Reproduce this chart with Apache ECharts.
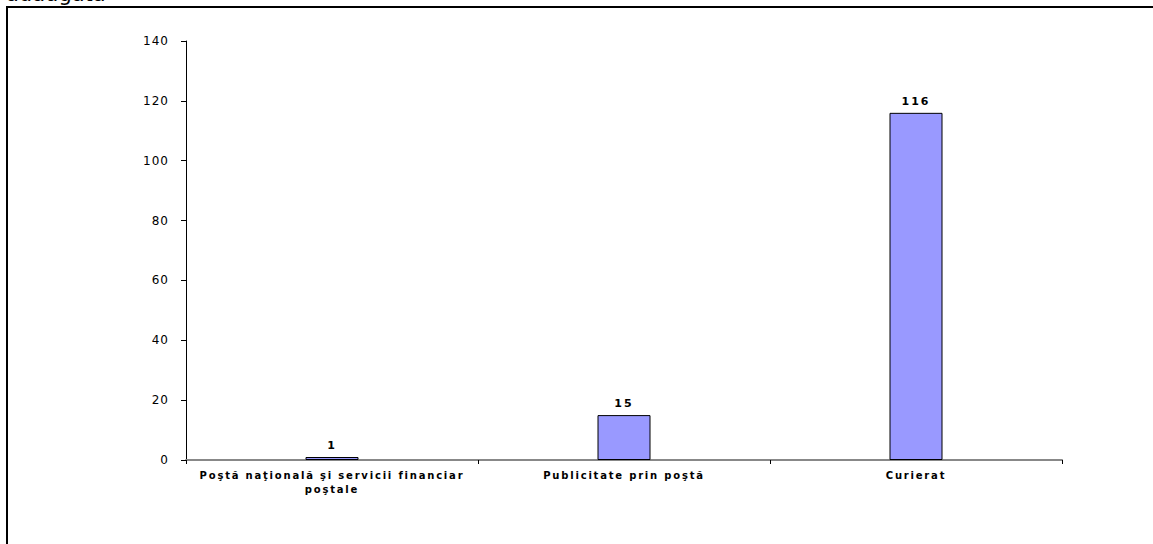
<!DOCTYPE html>
<html>
<head>
<meta charset="utf-8">
<script src="https://cdn.jsdelivr.net/npm/echarts@6/dist/echarts.min.js"></script>
<style>
  html, body { margin: 0; padding: 0; background: #fff; }
  #chart { width: 1153px; height: 544px; }
</style>
</head>
<body>
<div id="chart"></div>
<script>
// Categories and values
const categories = [
  'Poştă naţională şi servicii financiar\npoştale',
  'Publicitate prin poştă',
  'Curierat'
];
const values = [1, 15, 116];
const yTicks = { min: 0, max: 140, interval: 20 };

const FONT = '"DejaVu Sans", Verdana, sans-serif';

const chart = echarts.init(document.getElementById('chart'), null, { renderer: 'svg' });

chart.setOption({
  animation: false,
  backgroundColor: '#ffffff',
  graphic: [
    {
      // tail of the heading line above the frame
      type: 'text',
      x: 6,
      y: 4,
      style: {
        text: 'adăugată',
        fontFamily: FONT,
        fontSize: 21,
        fill: '#000',
        verticalAlign: 'bottom'
      }
    },
    {
      type: 'rect',
      shape: { x: 7, y: 7, width: 1300, height: 700 },
      style: { fill: 'none', stroke: '#000', lineWidth: 2 },
      silent: true
    }
  ],
  grid: { left: 186, right: 91, top: 41, bottom: 84, containLabel: false },
  xAxis: {
    type: 'category',
    data: categories,
    axisLine: { lineStyle: { color: '#888888', width: 2 } },
    axisTick: { show: true, length: 4, lineStyle: { color: '#000' } },
    axisLabel: {
      interval: 0,
      margin: 8,
      color: '#000',
      fontFamily: FONT,
      fontWeight: 'bold',
      fontSize: 10,
      lineHeight: 14
    },
    splitLine: { show: false }
  },
  yAxis: {
    type: 'value',
    min: yTicks.min,
    max: yTicks.max,
    interval: yTicks.interval,
    axisLine: { show: true, lineStyle: { color: '#000', width: 1 } },
    axisTick: { show: true, length: 5, lineStyle: { color: '#000' } },
    axisLabel: {
      margin: 17,
      color: '#000',
      fontFamily: FONT,
      fontSize: 12
    },
    splitLine: { show: false }
  },
  series: [{
    type: 'bar',
    data: values,
    barWidth: 53,
    itemStyle: { color: '#9999FF', borderColor: '#000', borderWidth: 1 },
    label: {
      show: true,
      position: 'top',
      distance: 6,
      color: '#000',
      fontFamily: FONT,
      fontWeight: 'bold',
      fontSize: 11
    }
  }]
});

// Widen the tracking of the axis and value labels
document.querySelectorAll('#chart text').forEach(function (t) {
  const cs = getComputedStyle(t);
  const size = parseFloat(cs.fontSize);
  const bold = cs.fontWeight === 'bold' || parseInt(cs.fontWeight, 10) >= 600;
  let spacing = 0;
  if (bold && size === 10) spacing = 1.8;
  else if (bold && size === 11) spacing = 2;
  else if (!bold && size === 12) spacing = 1;
  if (spacing) t.style.letterSpacing = spacing + 'px';
});
</script>
</body>
</html>
